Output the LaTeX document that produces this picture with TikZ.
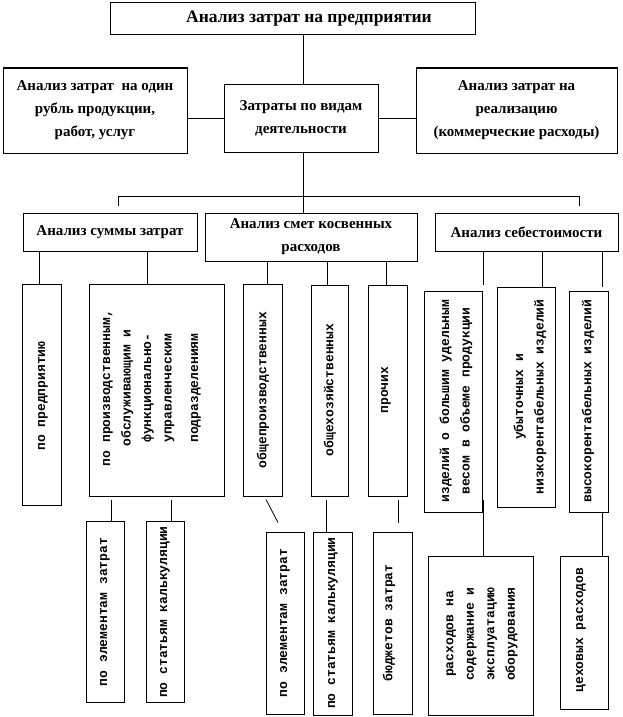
\documentclass[tikz,border=0pt]{standalone}
\usepackage{fontspec}
\setmainfont{Liberation Serif}
\newfontfamily\monof{Liberation Mono}
\begin{document}
\begin{tikzpicture}[x=1pt,y=-1pt,
  box/.style={draw, line width=1pt, inner sep=0pt, anchor=center},
  htext/.style={font=\bfseries\fontsize{15}{23}\selectfont, align=center},
  vtext/.style={rotate=90, font=\monof\bfseries\fontsize{13}{20.5}\selectfont, align=center, inner sep=0pt},
  conn/.style={line width=1pt}]
\useasboundingbox (0,0) rectangle (622,717);

% top levels
\node[box, htext, font=\bfseries\fontsize{17.5}{20}\selectfont, minimum width=365pt, minimum height=32pt] (top) at (292.5,19) {\hspace*{33pt}Анализ затрат на предприятии};
\node[box, htext, minimum width=184pt, minimum height=85pt] (left) at (95,110.5) {Анализ затрат\ \ на один\\рубль продукции,\\работ, услуг};
\node[box, htext, minimum width=154pt, minimum height=68pt] (mid) at (301,118) {Затраты по видам\\деятельности};
\node[box, htext, minimum width=201pt, minimum height=85pt] (right) at (516.5,110.5) {Анализ затрат на\\реализацию\\(коммерческие\ расходы)};

% second row
\node[box, htext, minimum width=174pt, minimum height=38pt] (summ) at (110,232) {Анализ суммы\ затрат};
\node[box, htext, minimum width=212pt, minimum height=48pt] (smet) at (311,237) {Анализ смет косвенных\\расходов};
\node[box, htext, minimum width=183pt, minimum height=38pt] (sebest) at (526.5,232) {Анализ себестоимости};

% third row boxes
\node[box, minimum width=39pt, minimum height=221pt] (b1) at (41.5,394.5) {};
\node[box, minimum width=135pt, minimum height=212pt] (b2) at (156.5,390) {};
\node[box, minimum width=39pt, minimum height=212pt] (b3) at (262.5,390) {};
\node[box, minimum width=37pt, minimum height=211pt] (b4) at (329.5,390.5) {};
\node[box, minimum width=39pt, minimum height=211pt] (b5) at (387.5,390.5) {};
\node[box, minimum width=58pt, minimum height=221pt] (b6) at (453,401.5) {};
\node[box, minimum width=58pt, minimum height=220pt] (b7) at (526,397) {};
\node[box, minimum width=39pt, minimum height=221pt] (b8) at (588.5,401.5) {};

% fourth row boxes
\node[box, minimum width=38pt, minimum height=181pt] (b9) at (105,611.5) {};
\node[box, minimum width=38pt, minimum height=181pt] (b10) at (165,611.5) {};
\node[box, minimum width=38pt, minimum height=182pt] (b11) at (285,623) {};
\node[box, minimum width=39pt, minimum height=183pt] (b12) at (332.5,623.5) {};
\node[box, minimum width=39pt, minimum height=182pt] (b13) at (392.5,623) {};
\node[box, minimum width=105pt, minimum height=159pt] (b14) at (480.5,635.5) {};
\node[box, minimum width=48pt, minimum height=153pt] (b15) at (584,632.5) {};

% vertical texts
\node[vtext] (t1) at (43,396) {по предприятию};
\node[vtext] (t2) at (152,388) {по производственным,\\обслуживающим и\\функционально-\\управленческим\\[6pt]подразделениям};
\node[vtext] (t3) at (263,390) {общепроизводственных};
\node[vtext] (t4) at (330,390) {общехозяйственных};
\node[vtext] (t5) at (386,390) {прочих};
\node[vtext] (t6) at (456,401) {изделий о большим удельным\\весом в объеме продукции};
\node[vtext] (t7) at (530,397) {убыточных и\\низкорентабельных изделий};
\node[vtext] (t8) at (588,401) {высокорентабельных изделий};
\node[vtext] (t9) at (105,612) {по элементам затрат};
\node[vtext] (t10) at (165,612) {по статьям калькуляции};
\node[vtext] (t11) at (285,623) {по элементам затрат};
\node[vtext] (t12) at (333,623) {по статьям калькуляции};
\node[vtext] (t13) at (389,623) {бюджетов затрат};
\node[vtext] (t14) at (482,634) {расходов на\\содержание и\\эксплуатацию\\оборудования};
\node[vtext] (t15) at (581,630) {цеховых расходов};

% connectors top
\draw[conn] (303,0 |- top.south) -- (303,0 |- mid.north);
\draw[conn] (mid.west) -- (mid.west -| left.east);
\draw[conn] (mid.east) -- (mid.east -| right.west);
\draw[conn] (303,0 |- mid.south) -- (303,0 |- smet.north);
\coordinate (busL) at (118,206);
\coordinate (busR) at (579,206);
\draw[conn] (busL) -- (118,196) -- (579,196) -- (busR);

% second to third row
\draw[conn] (39,0 |- summ.south) -- (39,0 |- b1.north);
\draw[conn] (147,0 |- summ.south) -- (147,0 |- b2.north);
\draw[conn] (267,0 |- smet.south) -- (267,0 |- b3.north);
\draw[conn] (327,0 |- smet.south) -- (327,0 |- b4.north);
\draw[conn] (386,0 |- smet.south) -- (386,0 |- b5.north);
\draw[conn] (483,0 |- sebest.south) -- ([yshift=6pt]483,0 |- b6.north);
\draw[conn] (542,0 |- sebest.south) -- (542,0 |- b7.north);
\draw[conn] (602,0 |- sebest.south) -- ([yshift=4pt]602,0 |- b8.north);

% third to fourth row
\draw[conn] ([yshift=-3pt]111,0 |- b2.south) -- (111,0 |- b9.north);
\draw[conn] ([yshift=-3pt]171,0 |- b2.south) -- (171,0 |- b10.north);
\draw[line width=0.8pt] ([yshift=-3pt]266,0 |- b3.south) -- ([yshift=9pt]278,0 |- b11.north);
\draw[conn] ([yshift=-3pt]326,0 |- b4.south) -- (326,0 |- b12.north);
\draw[conn] ([yshift=-3pt]398,0 |- b5.south) -- ([yshift=9pt]398,0 |- b13.north);
\draw[conn] ([yshift=13pt]483,0 |- b6.south) -- (483,0 |- b14.north);
\draw[conn] (602,0 |- b8.south) -- (602,0 |- b15.north);
\end{tikzpicture}
\end{document}
